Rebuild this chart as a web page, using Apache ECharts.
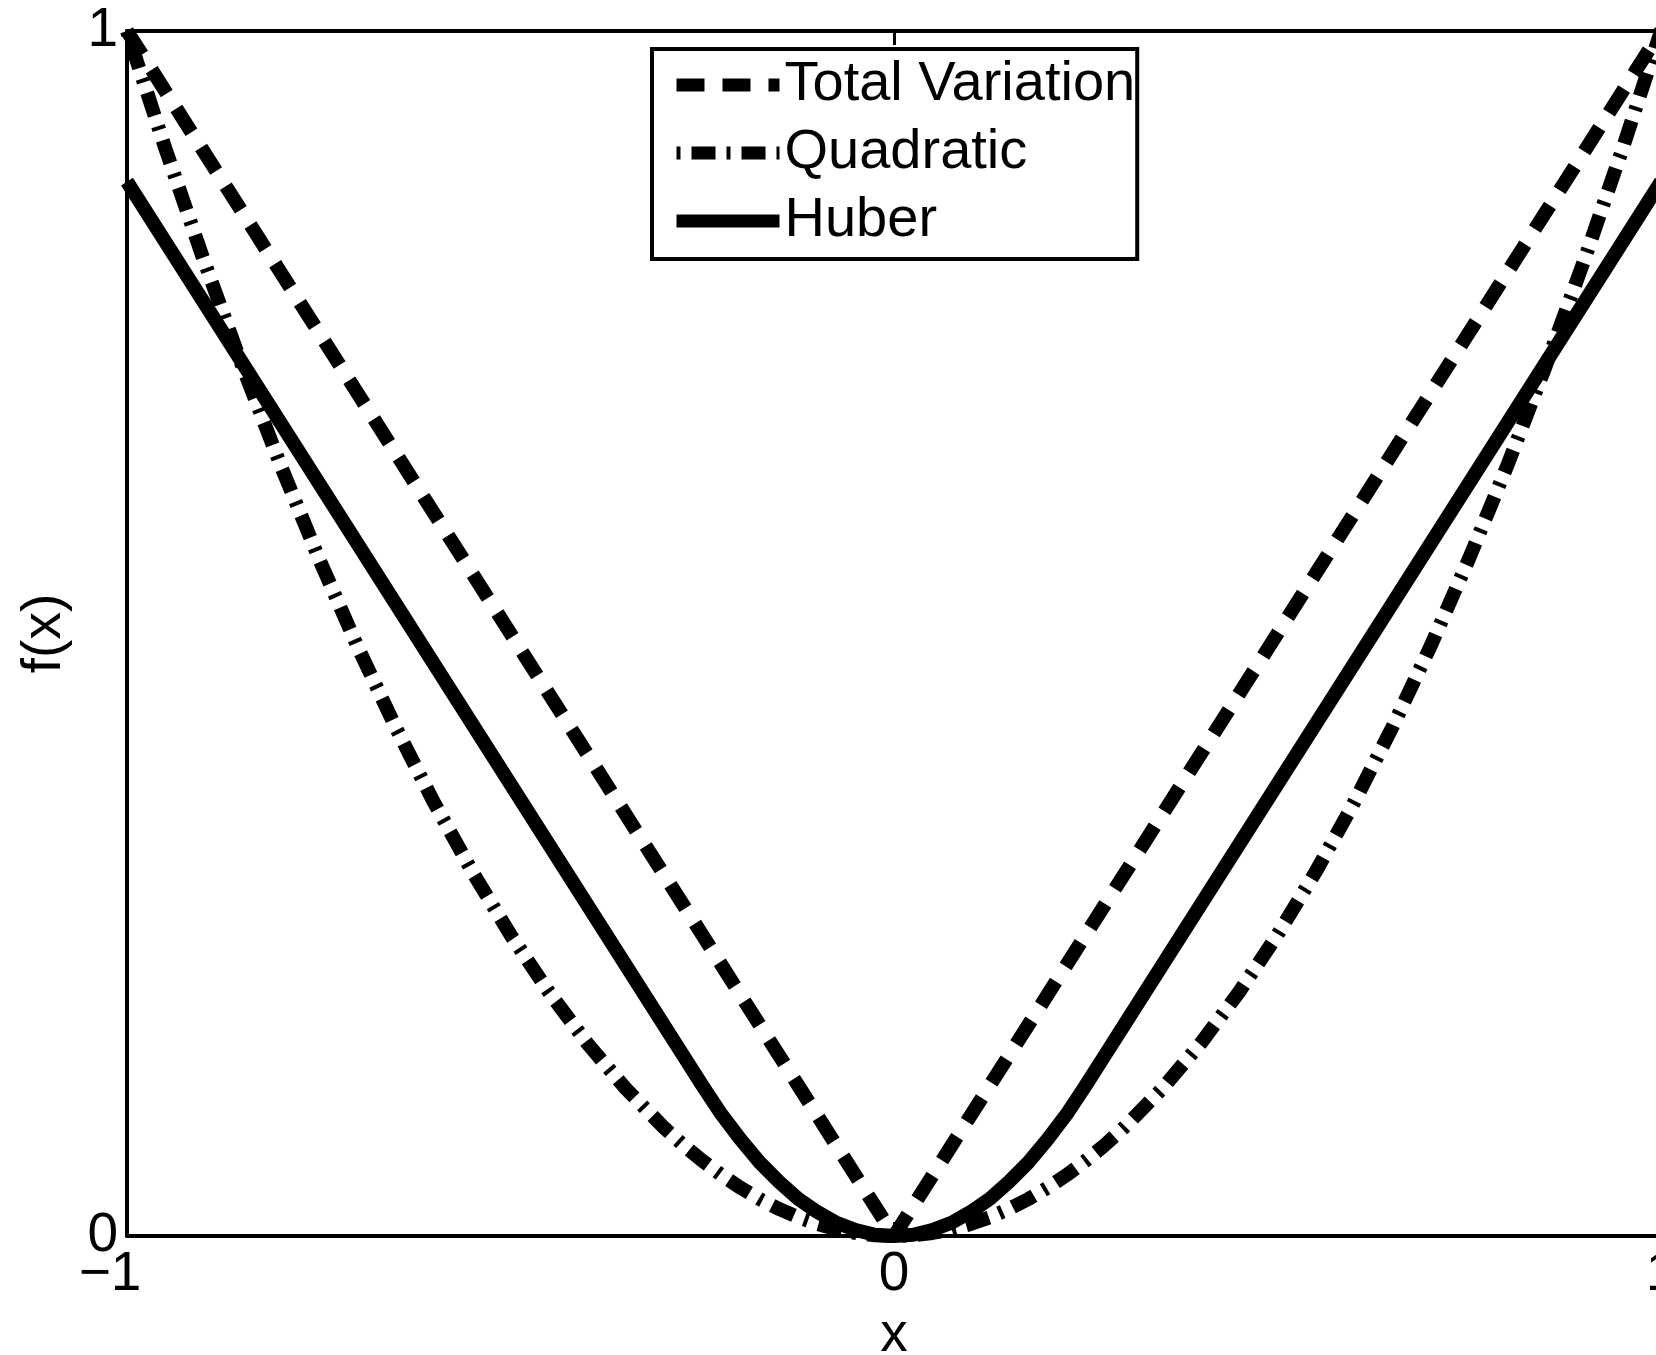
<!DOCTYPE html>
<html>
<head>
<meta charset="utf-8">
<script src="https://cdn.jsdelivr.net/npm/echarts@6/dist/echarts.min.js"></script>
<style>
html,body{margin:0;padding:0;background:#fff;}
#chart{width:1656px;height:1355px;}
</style>
</head>
<body>
<div id="chart"></div>
<script>
// x sample positions
var xs = [-1,-0.95,-0.9,-0.85,-0.8,-0.75,-0.7,-0.65,-0.6,-0.55,-0.5,-0.45,-0.4,-0.35,-0.3,
          -0.275,-0.25,-0.225,-0.2,-0.175,-0.15,-0.125,-0.1,-0.075,-0.05,-0.025,0,
          0.025,0.05,0.075,0.1,0.125,0.15,0.175,0.2,0.225,0.25,0.275,
          0.3,0.35,0.4,0.45,0.5,0.55,0.6,0.65,0.7,0.75,0.8,0.85,0.9,0.95,1];
// Total Variation values
var tvValues = [1,0.95,0.9,0.85,0.8,0.75,0.7,0.65,0.6,0.55,0.5,0.45,0.4,0.35,0.3,
                0.275,0.25,0.225,0.2,0.175,0.15,0.125,0.1,0.075,0.05,0.025,0,
                0.025,0.05,0.075,0.1,0.125,0.15,0.175,0.2,0.225,0.25,0.275,
                0.3,0.35,0.4,0.45,0.5,0.55,0.6,0.65,0.7,0.75,0.8,0.85,0.9,0.95,1];
// Quadratic values
var quadValues = [1,0.9025,0.81,0.7225,0.64,0.5625,0.49,0.4225,0.36,0.3025,0.25,0.2025,0.16,0.1225,0.09,
                  0.0756,0.0625,0.0506,0.04,0.0306,0.0225,0.0156,0.01,0.0056,0.0025,0.0006,0,
                  0.0006,0.0025,0.0056,0.01,0.0156,0.0225,0.0306,0.04,0.0506,0.0625,0.0756,
                  0.09,0.1225,0.16,0.2025,0.25,0.3025,0.36,0.4225,0.49,0.5625,0.64,0.7225,0.81,0.9025,1];
// Huber values
var huberValues = [0.875,0.825,0.775,0.725,0.675,0.625,0.575,0.525,0.475,0.425,0.375,0.325,0.275,0.225,0.175,
                   0.15,0.125,0.101,0.08,0.061,0.045,0.031,0.02,0.011,0.005,0.001,0,
                   0.001,0.005,0.011,0.02,0.031,0.045,0.061,0.08,0.101,0.125,0.15,
                   0.175,0.225,0.275,0.325,0.375,0.425,0.475,0.525,0.575,0.625,0.675,0.725,0.775,0.825,0.875];
var seriesNames = ['Total Variation','Quadratic','Huber'];
var xTicks = [-1, 0, 1];
var yTicks = [0, 1];

function pairs(vals){ return xs.map(function(x,i){ return [x, vals[i]]; }); }

var FONT = '"Liberation Sans", Arial, sans-serif';
var chart = echarts.init(document.getElementById('chart'), null, {renderer:'canvas'});
var axisLineStyle = {color:'#000', width:4};
chart.setOption({
  animation:false,
  backgroundColor:'#fff',
  grid:{left:127, top:31, width:1534, height:1205, containLabel:false, outerBoundsMode:'none'},
  legend:{
    data:seriesNames,
    orient:'vertical',
    left:652, top:49,
    itemWidth:103, itemHeight:14, itemGap:12,
    padding:[8,2,10,18],
    borderColor:'#000', borderWidth:4,
    backgroundColor:'#fff',
    selectedMode:false,
    itemStyle:{color:'rgba(0,0,0,0)', borderWidth:0, opacity:0},
    lineStyle:{width:13, type:'inherit', cap:'butt'},
    textStyle:{fontSize:56, color:'#000', fontFamily:FONT}
  },
  xAxis:[{
    type:'value', min:xTicks[0], max:xTicks[2], interval:1, position:'bottom',
    name:'x', nameLocation:'middle', nameGap:72,
    nameTextStyle:{fontSize:55, color:'#000', fontFamily:FONT},
    axisLine:{show:true, onZero:false, lineStyle:axisLineStyle},
    axisTick:{show:true, inside:true, length:14, lineStyle:{color:'#000', width:3}},
    splitLine:{show:false},
    axisLabel:{fontSize:55, color:'#000', fontFamily:FONT, margin:11,
      formatter:function(v){ return v < 0 ? '{m|\u2212' + Math.abs(v) + '}' : String(v); },
      rich:{m:{fontSize:55, color:'#000', fontFamily:FONT, padding:[0,34,0,0]}}
    }
  },{
    type:'value', min:xTicks[0], max:xTicks[2], interval:1, position:'top',
    axisLine:{show:true, onZero:false, lineStyle:axisLineStyle},
    axisTick:{show:true, inside:true, length:14, lineStyle:{color:'#000', width:3}},
    splitLine:{show:false}, axisLabel:{show:false}
  }],
  yAxis:[{
    type:'value', min:yTicks[0], max:yTicks[1], interval:1, position:'left',
    name:'f(x)', nameLocation:'middle', nameGap:55, nameRotate:90,
    nameTextStyle:{fontSize:55, color:'#000', fontFamily:FONT},
    axisLine:{show:true, onZero:false, lineStyle:axisLineStyle},
    axisTick:{show:true, inside:true, length:14, lineStyle:{color:'#000', width:3}},
    splitLine:{show:false},
    axisLabel:{fontSize:55, color:'#000', fontFamily:FONT, margin:9}
  },{
    type:'value', min:yTicks[0], max:yTicks[1], interval:1, position:'right',
    axisLine:{show:true, onZero:false, lineStyle:axisLineStyle},
    axisTick:{show:false}, splitLine:{show:false}, axisLabel:{show:false}
  }],
  series:[
    {name:seriesNames[0], type:'line', data:pairs(tvValues), symbol:'none', clip:true,
     lineStyle:{color:'#000', width:14, type:[28,18], cap:'butt'}, itemStyle:{color:'#000'}},
    {name:seriesNames[1], type:'line', data:pairs(quadValues), symbol:'none', clip:true,
     lineStyle:{color:'#000', width:14, type:[4,11,24,11], cap:'butt'}, itemStyle:{color:'#000'}},
    {name:seriesNames[2], type:'line', data:pairs(huberValues), symbol:'none', clip:true,
     lineStyle:{color:'#000', width:14, type:'solid'}, itemStyle:{color:'#000'}}
  ]
});
</script>
</body>
</html>
